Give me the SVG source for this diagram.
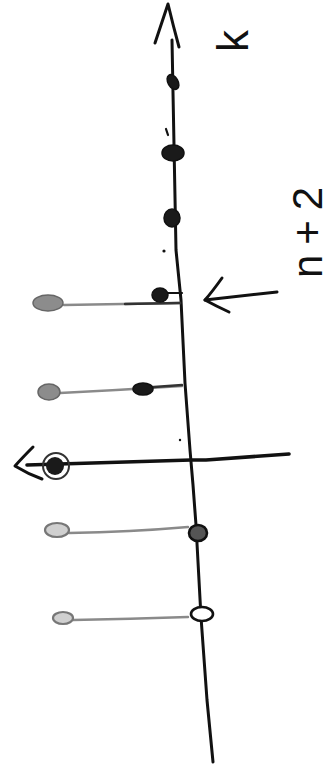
<svg xmlns="http://www.w3.org/2000/svg" width="334" height="771" viewBox="0 0 334 771">
<style>
.ink{fill:none;stroke:#111;stroke-width:3;stroke-linecap:round;stroke-linejoin:round}
.thin{fill:none;stroke:#111;stroke-width:2.2;stroke-linecap:round;stroke-linejoin:round}
.stem{fill:none;stroke:#8a8a8a;stroke-width:2.4;stroke-linecap:round}
.dstem{fill:none;stroke:#333;stroke-width:2.4;stroke-linecap:round}
.blob{fill:#1a1a1a;stroke:#111;stroke-width:1.5}
.oblob{fill:#bbb;stroke:#111;stroke-width:2.6}
.goval{fill:#8c8c8c;stroke:#666;stroke-width:1.5}
.goval2{fill:#d0d0d0;stroke:#777;stroke-width:2.2}
.lbl{font-family:"Liberation Sans",Arial,sans-serif;fill:#111}
</style>
<rect width="334" height="771" fill="#fff"/>
<g id="connectors">
  <path class="ink" d="M172,40 L176,250 L181,300 L185,383 L190,450 L193,485 L196,525 L201,617 L207,700 L213,762"/>
  <path class="ink" d="M155,43 Q162,22 168,4 Q173,25 179,47"/>
  <path class="ink" d="M277,292 L205,300"/>
  <path class="ink" d="M222,278 Q212,292 205,300 Q216,306 229,312"/>
  <path class="stem" d="M64,305 Q120,304 180,303"/>
  <path class="dstem" d="M125,304 L180,303"/>
  <path class="thin" d="M166,293 L182,293"/>
  <path class="stem" d="M60,393 Q120,390 182,386"/>
  <path class="dstem" d="M140,388 L182,385"/>
  <path class="ink" style="stroke-width:3.6" d="M27,465 L191,460 L206,460 L289,454"/>
  <path class="ink" d="M33,447 Q22,458 15,466 Q28,474 42,479"/>
  <path class="stem" d="M69,533 Q130,532 188,527"/>
  <path class="stem" d="M73,620 Q130,619 188,617"/>
</g>
<g id="dot-top1"><ellipse class="blob" cx="173" cy="82" rx="5" ry="8" transform="rotate(-30 173 82)"/></g>
<g id="dot-top2"><ellipse class="blob" cx="173" cy="153" rx="11" ry="8"/><path class="thin" d="M166,129 L168,135"/></g>
<g id="dot-top3"><ellipse class="blob" cx="172" cy="218" rx="8" ry="9"/><circle cx="164" cy="251" r="1.6" fill="#111"/></g>
<g id="row1">
  <ellipse class="goval" cx="48" cy="303" rx="15" ry="8"/>
  <ellipse class="blob" cx="160" cy="295" rx="8" ry="7"/>
</g>
<g id="row2">
  <ellipse class="goval" cx="49" cy="392" rx="11" ry="8"/>
  <ellipse class="blob" cx="143" cy="389" rx="10" ry="6"/>
</g>
<g id="row3">
  <circle cx="56" cy="466" r="13" fill="none" stroke="#333" stroke-width="2"/>
  <circle cx="55" cy="466" r="9" fill="#1a1a1a"/>
  <circle cx="180" cy="440" r="1.2" fill="#111"/>
</g>
<g id="row4">
  <ellipse class="goval2" cx="57" cy="530" rx="12" ry="7"/>
  <ellipse class="oblob" cx="198" cy="533" rx="9" ry="8" style="fill:#555"/>
</g>
<g id="row5">
  <ellipse class="goval2" cx="63" cy="618" rx="10" ry="6"/>
  <ellipse class="oblob" cx="202" cy="614" rx="11" ry="7" style="fill:#fff"/>
</g>
<g id="labels">
  <text class="lbl" font-size="44" transform="translate(248,52) rotate(-90)">k</text>
  <text class="lbl" font-size="42" textLength="91" lengthAdjust="spacing" transform="translate(322,278) rotate(-90)">n+2</text>
</g>
</svg>
